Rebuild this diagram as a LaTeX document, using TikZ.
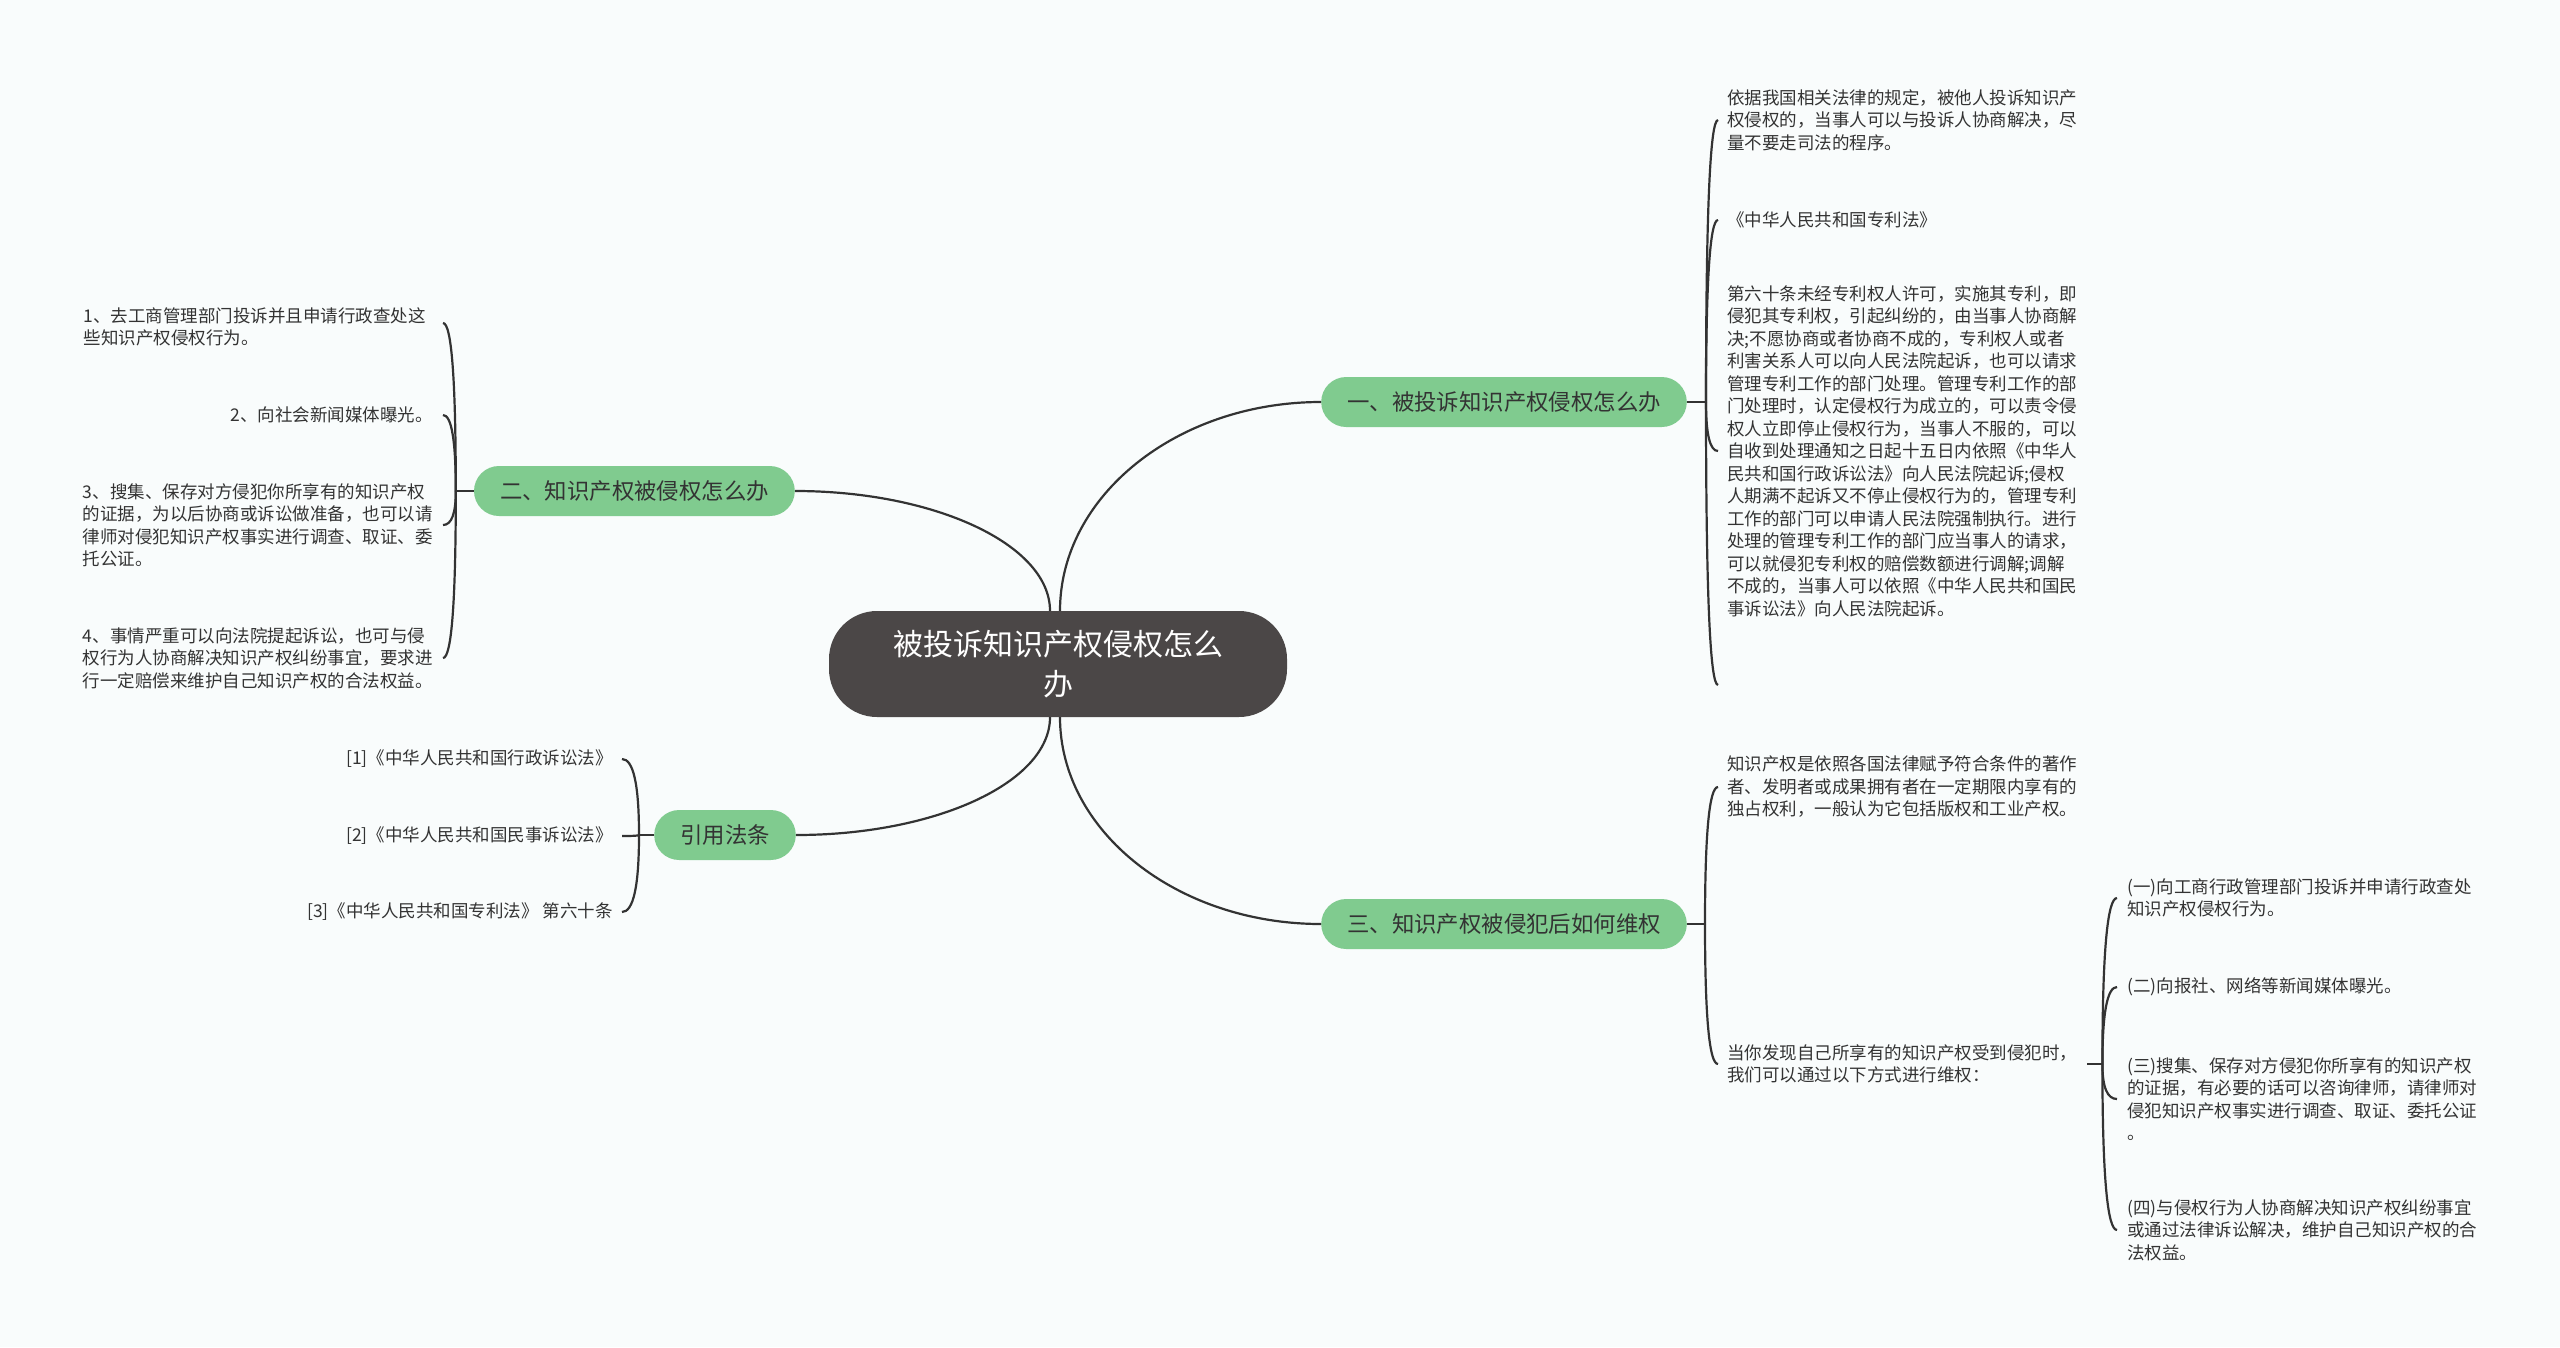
\documentclass[tikz,border=0pt]{standalone}
\usepackage{fontspec}
\setmainfont{Noto Sans CJK SC}
\usetikzlibrary{calc}
\definecolor{bg}{HTML}{F9FCFC}
\definecolor{rootfill}{HTML}{4B4747}
\definecolor{branchfill}{HTML}{80CB8F}
\definecolor{ink}{HTML}{333333}
\definecolor{lineink}{HTML}{333333}
\newcommand\brkline[2]{\draw[conn] (#1) .. controls ($(#1)!0.667!(#1|-#2)$) and ($(#2)!0.667!(#1|-#2)$) .. (#2);}
\tikzset{
  conn/.style={draw=lineink, line width=2.2pt},
  rootbox/.style={fill=rootfill, text=white, rounded corners=48pt, minimum width=458pt, minimum height=106pt, align=center, inner sep=0pt, font=\fontsize{30}{40}\selectfont},
  branchbox/.style={fill=branchfill, text=ink, rounded corners=25pt, minimum height=50pt, inner xsep=26pt, inner ysep=0pt, font=\fontsize{22.4}{28}\selectfont},
  leafr/.style={anchor=west, align=left, inner sep=0pt, text=ink, font=\fontsize{17.5}{22.5}\selectfont},
  leafl/.style={anchor=east, align=left, inner sep=0pt, text=ink, font=\fontsize{17.5}{22.5}\selectfont},
}
\begin{document}
\begin{tikzpicture}[x=1pt,y=-1pt]
\useasboundingbox (0,0) rectangle (2560,1347);
\fill[bg] (0,0) rectangle (2560,1347);
% root and branches
\node[rootbox] (c) at (1058,664) {被投诉知识产权侵权怎么\\办};
\node[branchbox, anchor=west] (b1) at (1321,402) {一、被投诉知识产权侵权怎么办};
\node[branchbox, anchor=east] (b2) at (795,491) {二、知识产权被侵权怎么办};
\node[branchbox, anchor=west] (b3) at (1321,924) {三、知识产权被侵犯后如何维权};
\node[branchbox, anchor=east] (b4) at (796,835) {引用法条};
% root connectors
\draw[conn] ([xshift=2]c.north) .. controls +(0,-115) and +(-144,0) .. (b1.west);
\draw[conn] ([xshift=-8]c.north) .. controls +(0,-66) and +(140,0) .. (b2.east);
\draw[conn] ([xshift=-8]c.south) .. controls +(0,65) and +(140,0) .. (b4.east);
\draw[conn] ([xshift=2]c.south) .. controls +(0,114) and +(-144,0) .. (b3.west);
% branch 1 leaves
\node[leafr] (l1a) at (1727,120) {依据我国相关法律的规定，被他人投诉知识产\\权侵权的，当事人可以与投诉人协商解决，尽\\量不要走司法的程序。};
\node[leafr] (l1b) at (1727,220) {《中华人民共和国专利法》};
\node[leafr] (l1c) at (1727,451) {第六十条未经专利权人许可，实施其专利，即\\侵犯其专利权，引起纠纷的，由当事人协商解\\决;不愿协商或者协商不成的，专利权人或者\\利害关系人可以向人民法院起诉，也可以请求\\管理专利工作的部门处理。管理专利工作的部\\门处理时，认定侵权行为成立的，可以责令侵\\权人立即停止侵权行为，当事人不服的，可以\\自收到处理通知之日起十五日内依照《中华人\\民共和国行政诉讼法》向人民法院起诉;侵权\\人期满不起诉又不停止侵权行为的，管理专利\\工作的部门可以申请人民法院强制执行。进行\\处理的管理专利工作的部门应当事人的请求，\\可以就侵犯专利权的赔偿数额进行调解;调解\\不成的，当事人可以依照《中华人民共和国民\\事诉讼法》向人民法院起诉。};
\coordinate (j1) at ([xshift=19]b1.east);
\coordinate (e1a) at ([xshift=-9]l1a.west);
\coordinate (e1b) at ([xshift=-9]l1b.west);
\coordinate (e1c) at ([xshift=-9]l1c.west);
\coordinate (e1d) at (1718,685);
\draw[conn] (b1.east) -- (j1);
\brkline{j1}{e1a}
\brkline{j1}{e1b}
\brkline{j1}{e1c}
\brkline{j1}{e1d}
% branch 3 leaves
\node[leafr] (l3a) at (1727,787) {知识产权是依照各国法律赋予符合条件的著作\\者、发明者或成果拥有者在一定期限内享有的\\独占权利，一般认为它包括版权和工业产权。};
\node[leafr] (l3b) at (1727,1064) {当你发现自己所享有的知识产权受到侵犯时，\\我们可以通过以下方式进行维权：};
\coordinate (j3) at ([xshift=18]b3.east);
\coordinate (e3a) at ([xshift=-9]l3a.west);
\coordinate (e3b) at ([xshift=-9]l3b.west);
\draw[conn] (b3.east) -- (j3);
\brkline{j3}{e3a}
\brkline{j3}{e3b}
% sub leaves of l3b
\node[leafr] (l4a) at (2127,898) {(一)向工商行政管理部门投诉并申请行政查处\\知识产权侵权行为。};
\node[leafr] (l4b) at (2127,987) {(二)向报社、网络等新闻媒体曝光。};
\node[leafr] (l4c) at (2127,1099) {(三)搜集、保存对方侵犯你所享有的知识产权\\的证据，有必要的话可以咨询律师，请律师对\\侵犯知识产权事实进行调查、取证、委托公证\\。};
\node[leafr] (l4d) at (2127,1230) {(四)与侵权行为人协商解决知识产权纠纷事宜\\或通过法律诉讼解决，维护自己知识产权的合\\法权益。};
\coordinate (j5) at ([xshift=25]l3b.east);
\coordinate (e4a) at ([xshift=-10]l4a.west);
\coordinate (e4b) at ([xshift=-10]l4b.west);
\coordinate (e4c) at ([xshift=-10]l4c.west);
\coordinate (e4d) at ([xshift=-10]l4d.west);
\draw[conn] ([xshift=10]l3b.east) -- (j5);
\brkline{j5}{e4a}
\brkline{j5}{e4b}
\brkline{j5}{e4c}
\brkline{j5}{e4d}
% branch 2 leaves
\node[leafl] (l2a) at (426,327) {1、去工商管理部门投诉并且申请行政查处这\\些知识产权侵权行为。};
\node[leafl] (l2b) at (433,415) {2、向社会新闻媒体曝光。};
\node[leafl] (l2c) at (433,525) {3、搜集、保存对方侵犯你所享有的知识产权\\的证据，为以后协商或诉讼做准备，也可以请\\律师对侵犯知识产权事实进行调查、取证、委\\托公证。};
\node[leafl] (l2d) at (433,658) {4、事情严重可以向法院提起诉讼，也可与侵\\权行为人协商解决知识产权纠纷事宜，要求进\\行一定赔偿来维护自己知识产权的合法权益。};
\coordinate (j2) at ([xshift=-18]b2.west);
\coordinate (e2a) at (443,323);
\coordinate (e2b) at ([xshift=10]l2b.east);
\coordinate (e2c) at ([xshift=10]l2c.east);
\coordinate (e2d) at ([xshift=10]l2d.east);
\draw[conn] (b2.west) -- (j2);
\brkline{j2}{e2a}
\brkline{j2}{e2b}
\brkline{j2}{e2c}
\brkline{j2}{e2d}
% references
\node[leafl] (r1) at (613,759) {[1]《中华人民共和国行政诉讼法》};
\node[leafl] (r2) at (613,836) {[2]《中华人民共和国民事诉讼法》};
\node[leafl] (r3) at (613,912) {[3]《中华人民共和国专利法》 第六十条};
\coordinate (j4) at ([xshift=-15]b4.west);
\coordinate (er1) at ([xshift=9]r1.east);
\coordinate (er2) at ([xshift=9]r2.east);
\coordinate (er3) at ([xshift=9]r3.east);
\draw[conn] (b4.west) -- (j4);
\brkline{j4}{er1}
\brkline{j4}{er2}
\brkline{j4}{er3}
\end{tikzpicture}
\end{document}
